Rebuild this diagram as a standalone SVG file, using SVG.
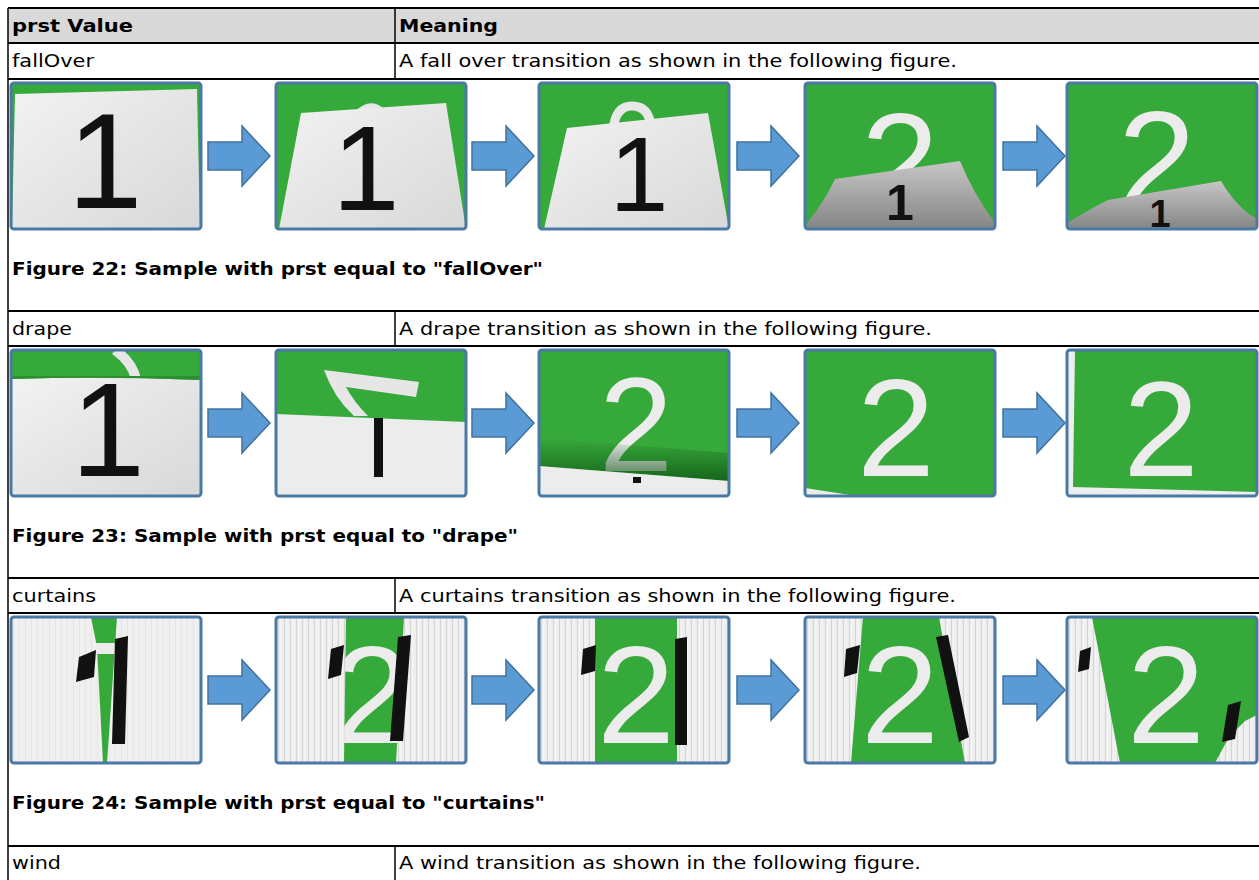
<svg xmlns="http://www.w3.org/2000/svg" width="1259" height="880" viewBox="0 0 1259 880">
<style>
.tx{font-family:"DejaVu Sans",Verdana,sans-serif;font-size:17.5px;fill:#000}
.b{font-weight:bold}
.hl{stroke:#000;stroke-width:2}
.vl{stroke:#000;stroke-width:1.5}
.frame{fill:none;stroke:#4a79a5;stroke-width:3}
.bg{fill:#36a93b}
.arrow{fill:#5b9bd5;stroke:#41719c;stroke-width:1.5}
.d1{font-family:"Liberation Sans",Arial,sans-serif;fill:#111;text-anchor:middle}
.d2{font-family:"Liberation Sans",Arial,sans-serif;fill:#ececec;text-anchor:middle}
.blk{fill:#111}
.cur{fill:url(#curtain)}
</style>
<defs>
<clipPath id="fc"><rect x="0" y="0" width="190" height="146" rx="3"/></clipPath>
<linearGradient id="sheet" x1="0" y1="0" x2="1" y2="1"><stop offset="0" stop-color="#f2f2f2"/><stop offset="1" stop-color="#d8d8d8"/></linearGradient>
<linearGradient id="sheetDark" x1="0" y1="0" x2="0" y2="1"><stop offset="0" stop-color="#c6c6c6"/><stop offset="1" stop-color="#858585"/></linearGradient>
<linearGradient id="shadow" x1="0" y1="0" x2="0" y2="1"><stop offset="0" stop-color="#0d4f12" stop-opacity="0"/><stop offset="1" stop-color="#0d4f12" stop-opacity="0.75"/></linearGradient>
<pattern id="curtain" width="6" height="146" patternUnits="userSpaceOnUse"><rect width="6" height="146" fill="#eeeeee"/><rect x="2" width="1" height="146" fill="#d4d4d4"/><rect x="4.5" width="0.8" height="146" fill="#fafafa"/></pattern>
<path id="arr" d="M0,-14 H34 V-30 L62,0 L34,30 V14 H0 Z"/>
</defs>
<rect width="1259" height="880" fill="#fff"/>

<g id="table">
<rect x="8" y="8" width="1251" height="35" fill="#d9d9d9"/>
<line class="hl" x1="8" y1="8" x2="1259" y2="8"/>
<line class="hl" x1="8" y1="43" x2="1259" y2="43"/>
<line class="hl" x1="8" y1="79" x2="1259" y2="79"/>
<line class="hl" x1="8" y1="311" x2="1259" y2="311"/>
<line class="hl" x1="8" y1="346" x2="1259" y2="346"/>
<line class="hl" x1="8" y1="578" x2="1259" y2="578"/>
<line class="hl" x1="8" y1="613" x2="1259" y2="613"/>
<line class="hl" x1="8" y1="846" x2="1259" y2="846"/>
<line class="vl" x1="8" y1="8" x2="8" y2="880"/>
<line class="vl" x1="395" y1="8" x2="395" y2="79"/>
<line class="vl" x1="395" y1="311" x2="395" y2="346"/>
<line class="vl" x1="395" y1="578" x2="395" y2="613"/>
<line class="vl" x1="395" y1="846" x2="395" y2="880"/>
<text class="tx b" x="12" y="32" textLength="121" lengthAdjust="spacingAndGlyphs">prst Value</text>
<text class="tx b" x="399" y="32" textLength="99" lengthAdjust="spacingAndGlyphs">Meaning</text>
<text class="tx" x="12" y="67" textLength="82" lengthAdjust="spacingAndGlyphs">fallOver</text>
<text class="tx" x="399" y="67" textLength="558" lengthAdjust="spacingAndGlyphs">A fall over transition as shown in the following figure.</text>
<text class="tx b" x="12" y="275" textLength="531" lengthAdjust="spacingAndGlyphs">Figure 22: Sample with prst equal to "fallOver"</text>
<text class="tx" x="12" y="335" textLength="60" lengthAdjust="spacingAndGlyphs">drape</text>
<text class="tx" x="399" y="335" textLength="533" lengthAdjust="spacingAndGlyphs">A drape transition as shown in the following figure.</text>
<text class="tx b" x="12" y="542" textLength="506" lengthAdjust="spacingAndGlyphs">Figure 23: Sample with prst equal to "drape"</text>
<text class="tx" x="12" y="602" textLength="84" lengthAdjust="spacingAndGlyphs">curtains</text>
<text class="tx" x="399" y="602" textLength="557" lengthAdjust="spacingAndGlyphs">A curtains transition as shown in the following figure.</text>
<text class="tx b" x="12" y="809" textLength="533" lengthAdjust="spacingAndGlyphs">Figure 24: Sample with prst equal to "curtains"</text>
<text class="tx" x="12" y="869" textLength="49" lengthAdjust="spacingAndGlyphs">wind</text>
<text class="tx" x="399" y="869" textLength="522" lengthAdjust="spacingAndGlyphs">A wind transition as shown in the following figure.</text>
</g>

<!-- Row 1: fallOver -->
<g id="fallOver-1" transform="translate(11,83)"><g clip-path="url(#fc)">
<rect class="bg" width="190" height="146"/>
<polygon points="4,11 186,6 189,146 1,146" fill="url(#sheet)"/>
<text class="d1" x="94" y="125" font-size="135">1</text>
</g><rect class="frame" width="190" height="146" rx="3"/></g>

<g id="fallOver-2" transform="translate(276,83)"><g clip-path="url(#fc)">
<rect class="bg" width="190" height="146"/>
<path d="M82,30 Q94,18 106,28" fill="none" stroke="#e6e6e6" stroke-width="6"/>
<polygon points="25,30 170,20 190,146 3,146" fill="url(#sheet)"/>
<text class="d1" x="90" y="127" font-size="121">1</text>
</g><rect class="frame" width="190" height="146" rx="3"/></g>

<g id="fallOver-3" transform="translate(539,83)"><g clip-path="url(#fc)">
<rect class="bg" width="190" height="146"/>
<path d="M74,48 Q76,23 93,23 Q111,23 112,46" fill="none" stroke="#e8e8e8" stroke-width="9"/>
<polygon points="28,45 169,30 190,146 5,146" fill="url(#sheet)"/>
<text class="d1" x="100" y="128" font-size="106">1</text>
</g><rect class="frame" width="190" height="146" rx="3"/></g>

<g id="fallOver-4" transform="translate(805,83)"><g clip-path="url(#fc)">
<rect class="bg" width="190" height="146"/>
<text class="d2" x="95" y="127" font-size="140">2</text>
<path d="M0,146 L2,140 Q20,118 30,96 L155,78 Q168,110 190,140 L190,146 Z" fill="url(#sheetDark)"/>
<text class="d1" x="95" y="137" font-size="50" font-weight="bold">1</text>
</g><rect class="frame" width="190" height="146" rx="3"/></g>

<g id="fallOver-5" transform="translate(1067,83)"><g clip-path="url(#fc)">
<rect class="bg" width="190" height="146"/>
<text class="d2" x="90" y="125" font-size="140">2</text>
<path d="M0,146 L0,140 Q25,125 41,117 L154,98 Q170,125 190,136 L190,146 Z" fill="url(#sheetDark)"/>
<text class="d1" x="93" y="144" font-size="38" font-weight="bold">1</text>
</g><rect class="frame" width="190" height="146" rx="3"/></g>

<!-- Row 2: drape -->
<g id="drape-1" transform="translate(11,350)"><g clip-path="url(#fc)">
<rect class="bg" width="190" height="146"/>
<path d="M0,29 Q95,26 190,30 L190,146 L0,146 Z" fill="url(#sheet)"/>
<path d="M104,0 Q121,12 125,29" fill="none" stroke="#e6e6e6" stroke-width="10"/>
<text class="d1" x="97" y="126" font-size="133">1</text>
<path d="M0,29 Q95,26 190,30 L190,26 L0,26 Z" fill="#2b8f30"/>
</g><rect class="frame" width="190" height="146" rx="3"/></g>

<g id="drape-2" transform="translate(276,350)"><g clip-path="url(#fc)">
<rect class="bg" width="190" height="146"/>
<path d="M0,64 L190,72 L190,146 L0,146 Z" fill="#ececec"/>
<path d="M48,20 L143,32 L140,47 L70,37 Q78,52 92,66 L78,66 Q58,48 48,20 Z" fill="#e6e6e6"/>
<rect class="blk" x="98" y="68" width="9" height="59"/>
</g><rect class="frame" width="190" height="146" rx="3"/></g>

<g id="drape-3" transform="translate(539,350)"><g clip-path="url(#fc)">
<rect class="bg" width="190" height="146"/>
<text class="d2" x="97" y="121" font-size="133">2</text>
<polygon points="0,88 190,103 190,131 0,116" fill="url(#shadow)"/>
<path d="M0,116 L190,131 L190,146 L0,146 Z" fill="#ececec"/>
<rect class="blk" x="94" y="127" width="8" height="6"/>
</g><rect class="frame" width="190" height="146" rx="3"/></g>

<g id="drape-4" transform="translate(805,350)"><g clip-path="url(#fc)">
<rect class="bg" width="190" height="146"/>
<text class="d2" x="91" y="126" font-size="140">2</text>
<polygon points="0,138 45,145 0,146" fill="#ececec"/>
</g><rect class="frame" width="190" height="146" rx="3"/></g>

<g id="drape-5" transform="translate(1067,350)"><g clip-path="url(#fc)">
<rect width="190" height="146" fill="#eeeeee"/>
<polygon class="bg" points="8,1 190,0 190,142 6,137"/>
<text class="d2" x="94" y="126" font-size="135">2</text>
</g><rect class="frame" width="190" height="146" rx="3"/></g>

<!-- Row 3: curtains -->
<g id="curtains-1" transform="translate(11,617)"><g clip-path="url(#fc)">
<rect width="190" height="146" fill="#f0f0f0"/>
<rect class="cur" width="190" height="146" opacity="0.35"/>
<polygon class="bg" points="80,0 106,0 104,30 96,146 92,146 86,30"/>
<polygon points="85,26 105,26 104,37 86,37" fill="#ececec"/>
<polygon class="blk" points="104,22 117,19 114,127 101,127"/>
<polygon class="blk" points="68,40 85,33 83,60 65,65"/>
</g><rect class="frame" width="190" height="146" rx="3"/></g>

<g id="curtains-2" transform="translate(276,617)"><g clip-path="url(#fc)">
<rect class="bg" width="190" height="146"/>
<text class="d2" x="96" y="126" font-size="140">2</text>
<polygon class="cur" points="0,0 70,0 68,146 0,146"/>
<polygon class="cur" points="128,0 190,0 190,146 120,146"/>
<polygon class="blk" points="122,20 135,18 127,124 114,124"/>
<polygon class="blk" points="55,32 68,28 65,58 52,62"/>
</g><rect class="frame" width="190" height="146" rx="3"/></g>

<g id="curtains-3" transform="translate(539,617)"><g clip-path="url(#fc)">
<rect class="bg" width="190" height="146"/>
<text class="d2" x="97" y="126" font-size="140">2</text>
<polygon class="cur" points="0,0 56,0 56,146 0,146"/>
<polygon class="cur" points="138,0 190,0 190,146 138,146"/>
<polygon class="blk" points="136,22 148,20 148,128 136,128"/>
<polygon class="blk" points="44,32 57,28 56,54 42,58"/>
</g><rect class="frame" width="190" height="146" rx="3"/></g>

<g id="curtains-4" transform="translate(805,617)"><g clip-path="url(#fc)">
<rect class="bg" width="190" height="146"/>
<text class="d2" x="95" y="126" font-size="140">2</text>
<polygon class="cur" points="0,0 58,0 46,146 0,146"/>
<polygon class="cur" points="134,0 190,0 190,146 160,146"/>
<polygon class="blk" points="131,20 143,18 164,120 154,125"/>
<polygon class="blk" points="41,32 55,28 52,56 39,60"/>
</g><rect class="frame" width="190" height="146" rx="3"/></g>

<g id="curtains-5" transform="translate(1067,617)"><g clip-path="url(#fc)">
<rect class="bg" width="190" height="146"/>
<text class="d2" x="99" y="126" font-size="140">2</text>
<polygon class="cur" points="0,0 25,0 53,146 0,146"/>
<polygon class="cur" points="148,146 162,120 178,104 190,98 190,146"/>
<polygon class="blk" points="161,88 174,84 168,122 155,125"/>
<polygon class="blk" points="13,34 24,30 22,52 11,55"/>
</g><rect class="frame" width="190" height="146" rx="3"/></g>

<g id="connectors">
<use href="#arr" class="arrow" x="208" y="156"/>
<use href="#arr" class="arrow" x="472" y="156"/>
<use href="#arr" class="arrow" x="737" y="156"/>
<use href="#arr" class="arrow" x="1003" y="156"/>
<use href="#arr" class="arrow" x="208" y="423"/>
<use href="#arr" class="arrow" x="472" y="423"/>
<use href="#arr" class="arrow" x="737" y="423"/>
<use href="#arr" class="arrow" x="1003" y="423"/>
<use href="#arr" class="arrow" x="208" y="690"/>
<use href="#arr" class="arrow" x="472" y="690"/>
<use href="#arr" class="arrow" x="737" y="690"/>
<use href="#arr" class="arrow" x="1003" y="690"/>
</g>
</svg>
